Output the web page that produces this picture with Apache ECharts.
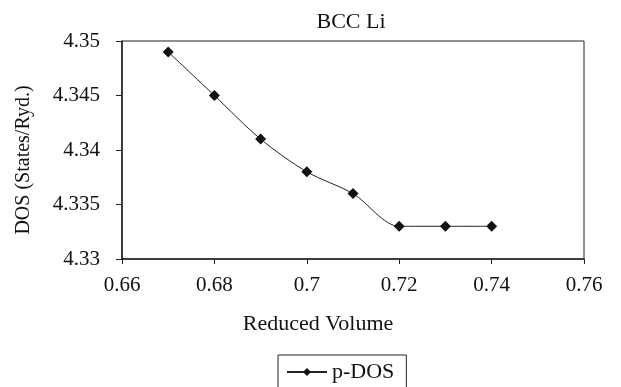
<!DOCTYPE html>
<html>
<head>
<meta charset="utf-8">
<script src="https://cdn.jsdelivr.net/npm/echarts@6/dist/echarts.min.js"></script>
<style>
  html, body { margin: 0; padding: 0; background: #fff; }
  #chart { width: 621px; height: 387px; }
</style>
</head>
<body>
<div id="chart"></div>
<script>
// reduced volume vs p-DOS
const volume = [0.67, 0.68, 0.69, 0.70, 0.71, 0.72, 0.73, 0.74];
const pDos = [4.349, 4.345, 4.341, 4.338, 4.336, 4.333, 4.333, 4.333];

const font = 'Liberation Serif';
const chart = echarts.init(document.getElementById('chart'));

const option = {
  backgroundColor: '#fff',
  animation: false,
  title: {
    text: 'BCC Li',
    left: 346,
    textAlign: 'center',
    top: 6,
    textStyle: { fontFamily: font, fontSize: 22, fontWeight: 'normal', color: '#111' }
  },
  grid: {
    left: 122,
    right: 37,
    top: 41,
    bottom: 128,
    show: true,
    borderColor: '#222',
    borderWidth: 1
  },
  legend: {
    left: 278,
    top: 355,
    data: ['p-DOS'],
    itemWidth: 40,
    itemHeight: 10,
    padding: [6, 12, 20, 8],
    borderColor: '#222',
    borderWidth: 1,
    textStyle: { fontFamily: font, fontSize: 22, color: '#111' }
  },
  xAxis: {
    type: 'value',
    min: 0.66,
    max: 0.76,
    interval: 0.02,
    name: 'Reduced Volume',
    nameLocation: 'middle',
    nameGap: 54,
    nameTextStyle: { fontFamily: font, fontSize: 22, color: '#111', padding: [0, 70, 0, 0] },
    axisLine: { lineStyle: { color: '#222', width: 1.5 } },
    axisTick: { show: true, length: 5, lineStyle: { color: '#222' } },
    axisLabel: {
      margin: 16,
      fontFamily: font,
      fontSize: 21,
      color: '#111',
      formatter: v => String(+v.toFixed(2))
    },
    splitLine: { show: false }
  },
  yAxis: {
    type: 'value',
    min: 4.33,
    max: 4.35,
    interval: 0.005,
    name: 'DOS (States/Ryd.)',
    nameLocation: 'middle',
    nameGap: 88,
    nameTextStyle: { fontFamily: font, fontSize: 20, color: '#111', padding: [0, 20, 0, 0] },
    axisLine: { show: true, lineStyle: { color: '#222', width: 1.5 } },
    axisTick: { show: true, length: 6, lineStyle: { color: '#222' } },
    axisLabel: {
      margin: 22,
      fontFamily: font,
      fontSize: 21,
      color: '#111',
      formatter: v => String(+v.toFixed(3))
    },
    splitLine: { show: false }
  },
  series: [
    {
      name: 'p-DOS',
      type: 'line',
      data: volume.map((v, i) => [v, pDos[i]]),
      smooth: 0.3,
      symbol: 'diamond',
      symbolSize: 11,
      itemStyle: { color: '#111' },
      lineStyle: { color: '#222', width: 1 }
    }
  ]
};

chart.setOption(option);
</script>
</body>
</html>
